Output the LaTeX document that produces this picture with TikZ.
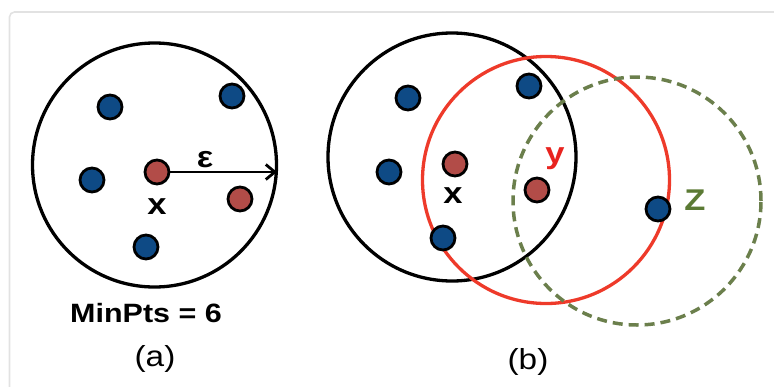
\documentclass[tikz,border=0pt]{standalone}
\usepackage{fontspec}
\setmainfont{Liberation Sans}
\usetikzlibrary{arrows.meta}
\definecolor{dotblue}{HTML}{0E4A85}
\definecolor{dotred}{HTML}{B24C48}
\definecolor{ringred}{HTML}{EE3A2A}
\definecolor{ringgreen}{HTML}{6B7F4C}
\definecolor{zgreen}{HTML}{5B7A34}
\definecolor{ylabel}{HTML}{E8231F}
\definecolor{framegray}{HTML}{E2E2E2}
\newcommand{\wide}[1]{\scalebox{1.15}[1]{#1}}
\begin{document}
\begin{tikzpicture}[x=1pt,y=-1pt,
  dot/.style={circle, draw=black, line width=2.8pt, minimum size=24pt, inner sep=0pt},
  bluedot/.style={dot, fill=dotblue},
  reddot/.style={dot, fill=dotred},
  ring/.style={circle, minimum size=#1, inner sep=0pt, line width=3.3pt},
  lbl/.style={font=\fontsize{26.5}{30}\selectfont\bfseries, inner sep=0pt},
  letter/.style={font=\fontsize{30}{33}\selectfont\bfseries, inner sep=0pt},
  captext/.style={font=\fontsize{29}{32}\selectfont, inner sep=0pt}]
\useasboundingbox (0,0) rectangle (774,386);
% panel frame
\draw[framegray, line width=1.6pt, rounded corners=5pt] (790,12) -- (9.5,12) -- (9.5,400);

% ---- (a) eps-neighbourhood ----
\node[ring=244pt, draw=black] (na) at (154.5,165) {};
\node[bluedot] (a1) at (110,107) {};
\node[bluedot] (a2) at (232,96) {};
\node[bluedot] (a3) at (92,180) {};
\node[bluedot] (a4) at (146,247) {};
\node[reddot] (ax) at (157,172) {};
\node[reddot] (a5) at (240,199) {};
\coordinate (aedge) at (277,172);
\draw[line width=2.8pt, -{Straight Barb[length=9pt,width=15pt,line width=2.8pt]}] (ax.east) -- (aedge);
\node[letter] (aeps) at (205,160) {\wide{ε}};
\node[letter] (axl) at (157,207) {\wide{x}};
\node[lbl] (minpts) at (146,313) {\wide{MinPts = 6}};
\node[captext] (capa) at (155,359) {\wide{(a)}};

% ---- (b) density reachability ----
\node[ring=248pt, draw=black] (nbx) at (452,157) {};
\node[ring=247pt, draw=ringred] (nby) at (546,180) {};
\node[ring=248pt, draw=ringgreen, line width=3.5pt, dash pattern=on 10pt off 6pt] (nbz) at (637,201) {};
\node[bluedot] (b1) at (408,98) {};
\node[bluedot] (b2) at (529,86) {};
\node[bluedot] (b3) at (389,172) {};
\node[bluedot] (b4) at (443,238) {};
\node[bluedot] (bz) at (658,209) {};
\node[reddot] (bx) at (455,164) {};
\node[reddot] (by) at (537,190) {};
\node[letter] (bxl) at (453,196) {\wide{x}};
\node[letter, text=ylabel] (byl) at (555,159) {\wide{y}};
\node[letter, text=zgreen] (bzl) at (695,200) {\wide{Z}};
\node[captext] (capb) at (528,362) {\wide{(b)}};
\end{tikzpicture}
\end{document}
